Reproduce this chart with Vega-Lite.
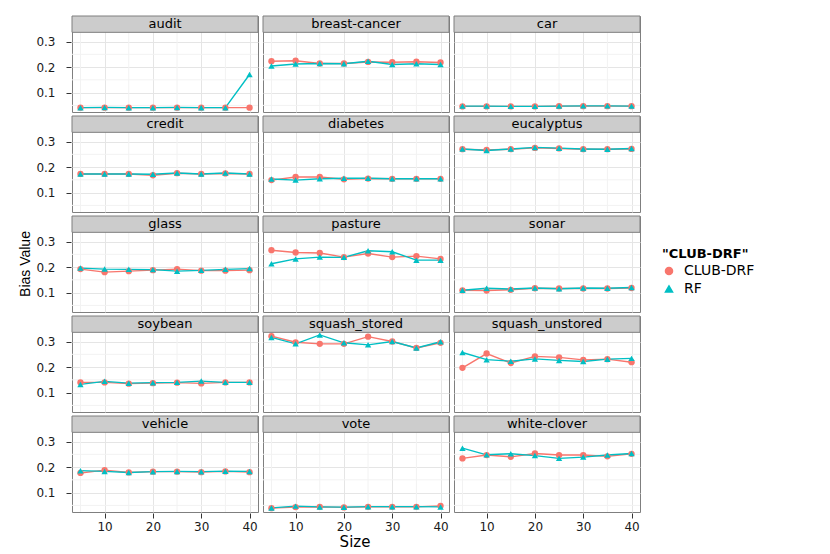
{
  "$schema": "https://vega.github.io/schema/vega-lite/v6.json",
  "padding": {"left": 18, "top": 15, "right": 5, "bottom": 5},
  "background": "white",
  "title": {"text": "Size", "orient": "bottom", "anchor": "middle", "fontSize": 15, "fontWeight": "normal", "font": "DejaVu Sans", "color": "#000000", "offset": 3, "dx": -32},
  "config": {
    "font": "DejaVu Sans",
    "view": {"stroke": "#7F7F7F", "strokeWidth": 1},
    "axis": {"labelFont": "DejaVu Sans", "labelFontSize": 12, "labelColor": "#1a1a1a", "domain": false, "tickColor": "#333333", "tickSize": 5, "gridColor": "#E5E5E5", "labelPadding": 3},
    "axisY": {"labelPadding": 11},
    "legend": {"titleFont": "DejaVu Sans", "titleFontSize": 13, "titleFontWeight": "bold", "titleColor": "#000000", "titlePadding": 3, "labelFont": "DejaVu Sans", "labelFontSize": 14, "labelColor": "#000000", "symbolSize": 50, "rowPadding": 4, "labelOffset": 8}
  },
  "data": {"values": [
    {"d":"audit","s":5,"m":"CLUB-DRF","v":0.041},{"d":"audit","s":10,"m":"CLUB-DRF","v":0.041},{"d":"audit","s":15,"m":"CLUB-DRF","v":0.041},{"d":"audit","s":20,"m":"CLUB-DRF","v":0.041},{"d":"audit","s":25,"m":"CLUB-DRF","v":0.041},{"d":"audit","s":30,"m":"CLUB-DRF","v":0.041},{"d":"audit","s":35,"m":"CLUB-DRF","v":0.041},{"d":"audit","s":40,"m":"CLUB-DRF","v":0.041},
    {"d":"audit","s":5,"m":"RF","v":0.041},{"d":"audit","s":10,"m":"RF","v":0.042},{"d":"audit","s":15,"m":"RF","v":0.041},{"d":"audit","s":20,"m":"RF","v":0.041},{"d":"audit","s":25,"m":"RF","v":0.042},{"d":"audit","s":30,"m":"RF","v":0.041},{"d":"audit","s":35,"m":"RF","v":0.041},{"d":"audit","s":40,"m":"RF","v":0.171},
    {"d":"breast-cancer","s":5,"m":"CLUB-DRF","v":0.223},{"d":"breast-cancer","s":10,"m":"CLUB-DRF","v":0.225},{"d":"breast-cancer","s":15,"m":"CLUB-DRF","v":0.214},{"d":"breast-cancer","s":20,"m":"CLUB-DRF","v":0.214},{"d":"breast-cancer","s":25,"m":"CLUB-DRF","v":0.220},{"d":"breast-cancer","s":30,"m":"CLUB-DRF","v":0.219},{"d":"breast-cancer","s":35,"m":"CLUB-DRF","v":0.221},{"d":"breast-cancer","s":40,"m":"CLUB-DRF","v":0.218},
    {"d":"breast-cancer","s":5,"m":"RF","v":0.204},{"d":"breast-cancer","s":10,"m":"RF","v":0.212},{"d":"breast-cancer","s":15,"m":"RF","v":0.214},{"d":"breast-cancer","s":20,"m":"RF","v":0.213},{"d":"breast-cancer","s":25,"m":"RF","v":0.223},{"d":"breast-cancer","s":30,"m":"RF","v":0.210},{"d":"breast-cancer","s":35,"m":"RF","v":0.213},{"d":"breast-cancer","s":40,"m":"RF","v":0.210},
    {"d":"car","s":5,"m":"CLUB-DRF","v":0.046},{"d":"car","s":10,"m":"CLUB-DRF","v":0.046},{"d":"car","s":15,"m":"CLUB-DRF","v":0.046},{"d":"car","s":20,"m":"CLUB-DRF","v":0.046},{"d":"car","s":25,"m":"CLUB-DRF","v":0.047},{"d":"car","s":30,"m":"CLUB-DRF","v":0.047},{"d":"car","s":35,"m":"CLUB-DRF","v":0.047},{"d":"car","s":40,"m":"CLUB-DRF","v":0.047},
    {"d":"car","s":5,"m":"RF","v":0.047},{"d":"car","s":10,"m":"RF","v":0.047},{"d":"car","s":15,"m":"RF","v":0.046},{"d":"car","s":20,"m":"RF","v":0.046},{"d":"car","s":25,"m":"RF","v":0.047},{"d":"car","s":30,"m":"RF","v":0.048},{"d":"car","s":35,"m":"RF","v":0.048},{"d":"car","s":40,"m":"RF","v":0.047},
    {"d":"credit","s":5,"m":"CLUB-DRF","v":0.173},{"d":"credit","s":10,"m":"CLUB-DRF","v":0.173},{"d":"credit","s":15,"m":"CLUB-DRF","v":0.173},{"d":"credit","s":20,"m":"CLUB-DRF","v":0.168},{"d":"credit","s":25,"m":"CLUB-DRF","v":0.176},{"d":"credit","s":30,"m":"CLUB-DRF","v":0.173},{"d":"credit","s":35,"m":"CLUB-DRF","v":0.175},{"d":"credit","s":40,"m":"CLUB-DRF","v":0.173},
    {"d":"credit","s":5,"m":"RF","v":0.173},{"d":"credit","s":10,"m":"RF","v":0.173},{"d":"credit","s":15,"m":"RF","v":0.173},{"d":"credit","s":20,"m":"RF","v":0.172},{"d":"credit","s":25,"m":"RF","v":0.177},{"d":"credit","s":30,"m":"RF","v":0.173},{"d":"credit","s":35,"m":"RF","v":0.177},{"d":"credit","s":40,"m":"RF","v":0.173},
    {"d":"diabetes","s":5,"m":"CLUB-DRF","v":0.149},{"d":"diabetes","s":10,"m":"CLUB-DRF","v":0.161},{"d":"diabetes","s":15,"m":"CLUB-DRF","v":0.161},{"d":"diabetes","s":20,"m":"CLUB-DRF","v":0.152},{"d":"diabetes","s":25,"m":"CLUB-DRF","v":0.155},{"d":"diabetes","s":30,"m":"CLUB-DRF","v":0.154},{"d":"diabetes","s":35,"m":"CLUB-DRF","v":0.154},{"d":"diabetes","s":40,"m":"CLUB-DRF","v":0.154},
    {"d":"diabetes","s":5,"m":"RF","v":0.153},{"d":"diabetes","s":10,"m":"RF","v":0.149},{"d":"diabetes","s":15,"m":"RF","v":0.154},{"d":"diabetes","s":20,"m":"RF","v":0.156},{"d":"diabetes","s":25,"m":"RF","v":0.156},{"d":"diabetes","s":30,"m":"RF","v":0.154},{"d":"diabetes","s":35,"m":"RF","v":0.154},{"d":"diabetes","s":40,"m":"RF","v":0.154},
    {"d":"eucalyptus","s":5,"m":"CLUB-DRF","v":0.270},{"d":"eucalyptus","s":10,"m":"CLUB-DRF","v":0.267},{"d":"eucalyptus","s":15,"m":"CLUB-DRF","v":0.270},{"d":"eucalyptus","s":20,"m":"CLUB-DRF","v":0.275},{"d":"eucalyptus","s":25,"m":"CLUB-DRF","v":0.273},{"d":"eucalyptus","s":30,"m":"CLUB-DRF","v":0.270},{"d":"eucalyptus","s":35,"m":"CLUB-DRF","v":0.270},{"d":"eucalyptus","s":40,"m":"CLUB-DRF","v":0.271},
    {"d":"eucalyptus","s":5,"m":"RF","v":0.271},{"d":"eucalyptus","s":10,"m":"RF","v":0.265},{"d":"eucalyptus","s":15,"m":"RF","v":0.271},{"d":"eucalyptus","s":20,"m":"RF","v":0.277},{"d":"eucalyptus","s":25,"m":"RF","v":0.274},{"d":"eucalyptus","s":30,"m":"RF","v":0.271},{"d":"eucalyptus","s":35,"m":"RF","v":0.270},{"d":"eucalyptus","s":40,"m":"RF","v":0.273},
    {"d":"glass","s":5,"m":"CLUB-DRF","v":0.192},{"d":"glass","s":10,"m":"CLUB-DRF","v":0.180},{"d":"glass","s":15,"m":"CLUB-DRF","v":0.184},{"d":"glass","s":20,"m":"CLUB-DRF","v":0.188},{"d":"glass","s":25,"m":"CLUB-DRF","v":0.192},{"d":"glass","s":30,"m":"CLUB-DRF","v":0.186},{"d":"glass","s":35,"m":"CLUB-DRF","v":0.186},{"d":"glass","s":40,"m":"CLUB-DRF","v":0.188},
    {"d":"glass","s":5,"m":"RF","v":0.196},{"d":"glass","s":10,"m":"RF","v":0.192},{"d":"glass","s":15,"m":"RF","v":0.191},{"d":"glass","s":20,"m":"RF","v":0.190},{"d":"glass","s":25,"m":"RF","v":0.184},{"d":"glass","s":30,"m":"RF","v":0.187},{"d":"glass","s":35,"m":"RF","v":0.191},{"d":"glass","s":40,"m":"RF","v":0.194},
    {"d":"pasture","s":5,"m":"CLUB-DRF","v":0.266},{"d":"pasture","s":10,"m":"CLUB-DRF","v":0.257},{"d":"pasture","s":15,"m":"CLUB-DRF","v":0.255},{"d":"pasture","s":20,"m":"CLUB-DRF","v":0.239},{"d":"pasture","s":25,"m":"CLUB-DRF","v":0.253},{"d":"pasture","s":30,"m":"CLUB-DRF","v":0.239},{"d":"pasture","s":35,"m":"CLUB-DRF","v":0.243},{"d":"pasture","s":40,"m":"CLUB-DRF","v":0.232},
    {"d":"pasture","s":5,"m":"RF","v":0.213},{"d":"pasture","s":10,"m":"RF","v":0.232},{"d":"pasture","s":15,"m":"RF","v":0.239},{"d":"pasture","s":20,"m":"RF","v":0.238},{"d":"pasture","s":25,"m":"RF","v":0.264},{"d":"pasture","s":30,"m":"RF","v":0.260},{"d":"pasture","s":35,"m":"RF","v":0.227},{"d":"pasture","s":40,"m":"RF","v":0.227},
    {"d":"sonar","s":5,"m":"CLUB-DRF","v":0.109},{"d":"sonar","s":10,"m":"CLUB-DRF","v":0.108},{"d":"sonar","s":15,"m":"CLUB-DRF","v":0.111},{"d":"sonar","s":20,"m":"CLUB-DRF","v":0.117},{"d":"sonar","s":25,"m":"CLUB-DRF","v":0.116},{"d":"sonar","s":30,"m":"CLUB-DRF","v":0.116},{"d":"sonar","s":35,"m":"CLUB-DRF","v":0.116},{"d":"sonar","s":40,"m":"CLUB-DRF","v":0.118},
    {"d":"sonar","s":5,"m":"RF","v":0.109},{"d":"sonar","s":10,"m":"RF","v":0.117},{"d":"sonar","s":15,"m":"RF","v":0.114},{"d":"sonar","s":20,"m":"RF","v":0.118},{"d":"sonar","s":25,"m":"RF","v":0.115},{"d":"sonar","s":30,"m":"RF","v":0.118},{"d":"sonar","s":35,"m":"RF","v":0.117},{"d":"sonar","s":40,"m":"RF","v":0.120},
    {"d":"soybean","s":5,"m":"CLUB-DRF","v":0.140},{"d":"soybean","s":10,"m":"CLUB-DRF","v":0.140},{"d":"soybean","s":15,"m":"CLUB-DRF","v":0.135},{"d":"soybean","s":20,"m":"CLUB-DRF","v":0.137},{"d":"soybean","s":25,"m":"CLUB-DRF","v":0.139},{"d":"soybean","s":30,"m":"CLUB-DRF","v":0.136},{"d":"soybean","s":35,"m":"CLUB-DRF","v":0.140},{"d":"soybean","s":40,"m":"CLUB-DRF","v":0.140},
    {"d":"soybean","s":5,"m":"RF","v":0.132},{"d":"soybean","s":10,"m":"RF","v":0.144},{"d":"soybean","s":15,"m":"RF","v":0.137},{"d":"soybean","s":20,"m":"RF","v":0.139},{"d":"soybean","s":25,"m":"RF","v":0.140},{"d":"soybean","s":30,"m":"RF","v":0.145},{"d":"soybean","s":35,"m":"RF","v":0.140},{"d":"soybean","s":40,"m":"RF","v":0.140},
    {"d":"squash_stored","s":5,"m":"CLUB-DRF","v":0.321},{"d":"squash_stored","s":10,"m":"CLUB-DRF","v":0.297},{"d":"squash_stored","s":15,"m":"CLUB-DRF","v":0.291},{"d":"squash_stored","s":20,"m":"CLUB-DRF","v":0.291},{"d":"squash_stored","s":25,"m":"CLUB-DRF","v":0.319},{"d":"squash_stored","s":30,"m":"CLUB-DRF","v":0.300},{"d":"squash_stored","s":35,"m":"CLUB-DRF","v":0.275},{"d":"squash_stored","s":40,"m":"CLUB-DRF","v":0.295},
    {"d":"squash_stored","s":5,"m":"RF","v":0.316},{"d":"squash_stored","s":10,"m":"RF","v":0.291},{"d":"squash_stored","s":15,"m":"RF","v":0.326},{"d":"squash_stored","s":20,"m":"RF","v":0.295},{"d":"squash_stored","s":25,"m":"RF","v":0.287},{"d":"squash_stored","s":30,"m":"RF","v":0.300},{"d":"squash_stored","s":35,"m":"RF","v":0.275},{"d":"squash_stored","s":40,"m":"RF","v":0.299},
    {"d":"squash_unstored","s":5,"m":"CLUB-DRF","v":0.197},{"d":"squash_unstored","s":10,"m":"CLUB-DRF","v":0.253},{"d":"squash_unstored","s":15,"m":"CLUB-DRF","v":0.216},{"d":"squash_unstored","s":20,"m":"CLUB-DRF","v":0.242},{"d":"squash_unstored","s":25,"m":"CLUB-DRF","v":0.238},{"d":"squash_unstored","s":30,"m":"CLUB-DRF","v":0.228},{"d":"squash_unstored","s":35,"m":"CLUB-DRF","v":0.231},{"d":"squash_unstored","s":40,"m":"CLUB-DRF","v":0.219},
    {"d":"squash_unstored","s":5,"m":"RF","v":0.257},{"d":"squash_unstored","s":10,"m":"RF","v":0.229},{"d":"squash_unstored","s":15,"m":"RF","v":0.223},{"d":"squash_unstored","s":20,"m":"RF","v":0.232},{"d":"squash_unstored","s":25,"m":"RF","v":0.226},{"d":"squash_unstored","s":30,"m":"RF","v":0.222},{"d":"squash_unstored","s":35,"m":"RF","v":0.231},{"d":"squash_unstored","s":40,"m":"RF","v":0.234},
    {"d":"vehicle","s":5,"m":"CLUB-DRF","v":0.177},{"d":"vehicle","s":10,"m":"CLUB-DRF","v":0.188},{"d":"vehicle","s":15,"m":"CLUB-DRF","v":0.179},{"d":"vehicle","s":20,"m":"CLUB-DRF","v":0.182},{"d":"vehicle","s":25,"m":"CLUB-DRF","v":0.182},{"d":"vehicle","s":30,"m":"CLUB-DRF","v":0.180},{"d":"vehicle","s":35,"m":"CLUB-DRF","v":0.183},{"d":"vehicle","s":40,"m":"CLUB-DRF","v":0.180},
    {"d":"vehicle","s":5,"m":"RF","v":0.186},{"d":"vehicle","s":10,"m":"RF","v":0.183},{"d":"vehicle","s":15,"m":"RF","v":0.179},{"d":"vehicle","s":20,"m":"RF","v":0.182},{"d":"vehicle","s":25,"m":"RF","v":0.183},{"d":"vehicle","s":30,"m":"RF","v":0.182},{"d":"vehicle","s":35,"m":"RF","v":0.184},{"d":"vehicle","s":40,"m":"RF","v":0.183},
    {"d":"vote","s":5,"m":"CLUB-DRF","v":0.039},{"d":"vote","s":10,"m":"CLUB-DRF","v":0.043},{"d":"vote","s":15,"m":"CLUB-DRF","v":0.044},{"d":"vote","s":20,"m":"CLUB-DRF","v":0.042},{"d":"vote","s":25,"m":"CLUB-DRF","v":0.044},{"d":"vote","s":30,"m":"CLUB-DRF","v":0.044},{"d":"vote","s":35,"m":"CLUB-DRF","v":0.044},{"d":"vote","s":40,"m":"CLUB-DRF","v":0.048},
    {"d":"vote","s":5,"m":"RF","v":0.040},{"d":"vote","s":10,"m":"RF","v":0.047},{"d":"vote","s":15,"m":"RF","v":0.044},{"d":"vote","s":20,"m":"RF","v":0.043},{"d":"vote","s":25,"m":"RF","v":0.045},{"d":"vote","s":30,"m":"RF","v":0.045},{"d":"vote","s":35,"m":"RF","v":0.045},{"d":"vote","s":40,"m":"RF","v":0.044},
    {"d":"white-clover","s":5,"m":"CLUB-DRF","v":0.234},{"d":"white-clover","s":10,"m":"CLUB-DRF","v":0.247},{"d":"white-clover","s":15,"m":"CLUB-DRF","v":0.240},{"d":"white-clover","s":20,"m":"CLUB-DRF","v":0.253},{"d":"white-clover","s":25,"m":"CLUB-DRF","v":0.247},{"d":"white-clover","s":30,"m":"CLUB-DRF","v":0.247},{"d":"white-clover","s":35,"m":"CLUB-DRF","v":0.242},{"d":"white-clover","s":40,"m":"CLUB-DRF","v":0.252},
    {"d":"white-clover","s":5,"m":"RF","v":0.274},{"d":"white-clover","s":10,"m":"RF","v":0.248},{"d":"white-clover","s":15,"m":"RF","v":0.252},{"d":"white-clover","s":20,"m":"RF","v":0.245},{"d":"white-clover","s":25,"m":"RF","v":0.234},{"d":"white-clover","s":30,"m":"RF","v":0.239},{"d":"white-clover","s":35,"m":"RF","v":0.247},{"d":"white-clover","s":40,"m":"RF","v":0.253}
  ]},
  "facet": {"field": "d", "type": "nominal", "title": "Bias Value", "header": {"labelExpr": "''", "labelFontSize": 0, "labelPadding": 0, "titleOrient": "left", "titleFontSize": 14, "titleFontWeight": "normal", "titleFont": "Liberation Sans", "titleColor": "#000000", "titlePadding": 2}},
  "columns": 3,
  "spacing": {"row": 2, "column": 3},
  "spec": {
    "width": 186,
    "height": 96,
    "encoding": {
      "x": {"field": "s", "type": "quantitative", "title": null,
        "scale": {"domain": [3.25, 41.75], "nice": false, "zero": false},
        "axis": {"values": [10, 20, 30, 40], "format": "d", "labelFlush": false}},
      "y": {"field": "v", "type": "quantitative", "title": null,
        "scale": {"domain": [0.024, 0.4], "nice": false, "zero": false},
        "axis": {"values": [0.1, 0.2, 0.3], "format": ".1f"}}
    },
    "layer": [
      {
        "mark": {"type": "rule", "color": "#F2F2F2", "strokeWidth": 1},
        "transform": [{"filter": "datum.m == 'RF' && (datum.s == 5 || datum.s == 15 || datum.s == 25 || datum.s == 35)"}],
        "encoding": {"y": {"datum": 0.024}, "y2": {"datum": 0.336}}
      },
      {
        "mark": {"type": "rule", "color": "#F2F2F2", "strokeWidth": 1},
        "transform": [{"filter": "datum.m == 'RF' && datum.s == 5"}],
        "encoding": {"y": {"datum": 0.05}, "x": {"datum": 3.25}, "x2": {"datum": 41.75}}
      },
      {
        "mark": {"type": "rule", "color": "#F2F2F2", "strokeWidth": 1},
        "transform": [{"filter": "datum.m == 'RF' && datum.s == 5"}],
        "encoding": {"y": {"datum": 0.15}, "x": {"datum": 3.25}, "x2": {"datum": 41.75}}
      },
      {
        "mark": {"type": "rule", "color": "#F2F2F2", "strokeWidth": 1},
        "transform": [{"filter": "datum.m == 'RF' && datum.s == 5"}],
        "encoding": {"y": {"datum": 0.25}, "x": {"datum": 3.25}, "x2": {"datum": 41.75}}
      },
      {
        "mark": {"type": "line", "strokeWidth": 1.4},
        "encoding": {
          "color": {"field": "m", "type": "nominal", "scale": {"domain": ["CLUB-DRF", "RF"], "range": ["#F8766D", "#00BFC4"]}, "title": "\"CLUB-DRF\"",
            "legend": {"orient": "none", "legendX": 590, "legendY": 232}}
        }
      },
      {
        "mark": {"type": "point", "filled": true, "opacity": 1, "size": 40},
        "encoding": {
          "color": {"field": "m", "type": "nominal", "title": "\"CLUB-DRF\""},
          "shape": {"field": "m", "type": "nominal", "scale": {"domain": ["CLUB-DRF", "RF"], "range": ["circle", "triangle-up"]}, "title": "\"CLUB-DRF\"",
            "legend": {"orient": "none", "legendX": 590, "legendY": 232}},
          "order": {"field": "m"}
        }
      },
      {
        "mark": {"type": "rect", "fill": "#CCCCCC", "stroke": "#7F7F7F", "strokeWidth": 1},
        "transform": [{"filter": "datum.s == 5 && datum.m == 'RF'"}],
        "encoding": {
          "x": {"datum": 3.25},
          "x2": {"datum": 41.75},
          "y": {"datum": 0.336},
          "y2": {"datum": 0.4}
        }
      },
      {
        "mark": {"type": "text", "fontSize": 13, "font": "DejaVu Sans", "color": "#000000", "baseline": "middle"},
        "transform": [{"filter": "datum.s == 5 && datum.m == 'RF'"}],
        "encoding": {
          "x": {"datum": 22.5},
          "y": {"datum": 0.368},
          "text": {"field": "d"}
        }
      }
    ]
  },
  "resolve": {"legend": {"color": "shared", "shape": "shared"}}
}
